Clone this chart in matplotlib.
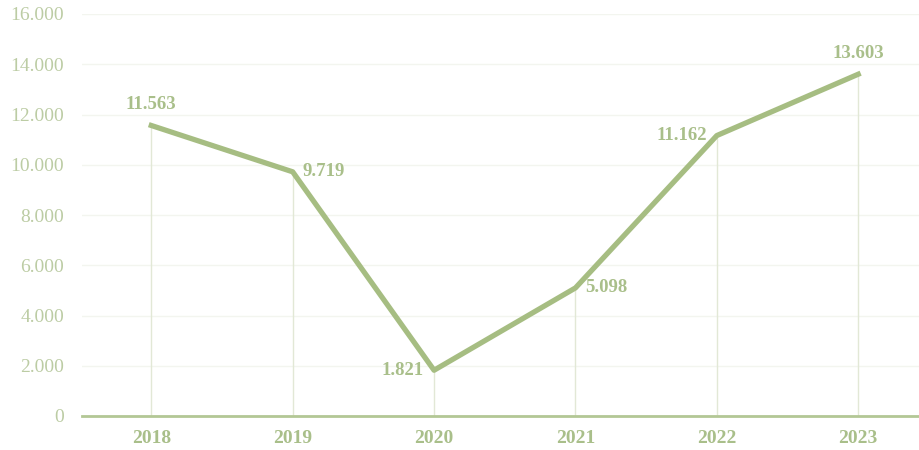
import numpy as np
import matplotlib.pyplot as plt
from matplotlib.ticker import FuncFormatter

years = ['2018', '2019', '2020', '2021', '2022', '2023']
values = [11563, 9719, 1821, 5098, 11162, 13603]
labels = ['11.563', '9.719', '1.821', '5.098', '11.162', '13.603']
y_ticks = [0, 2000, 4000, 6000, 8000, 10000, 12000, 14000, 16000]

line_color = '#a6bd82'
text_color = '#a9bf8a'
tick_color = '#bccca4'

plt.rcParams['font.family'] = ['Liberation Serif', 'DejaVu Serif']

fig = plt.figure(figsize=(9.19, 4.5), dpi=100)
ax = fig.add_axes([82 / 919, 34 / 450, 1 - 82 / 919, 402 / 450])

x = np.arange(len(years))
ax.plot(x, values, color=line_color, lw=3.8, solid_joinstyle='round', zorder=3)

# thin drop lines under each point
ax.vlines(x, 0, values, color='#e2e8d6', lw=1, zorder=1)

# label placement per point: (dx px, dy px, ha, va)
offsets = [(0, 12, 'center', 'bottom'),
           (10, 0, 'left', 'center'),
           (-10, 0, 'right', 'center'),
           (10, 0, 'left', 'center'),
           (-10, 0, 'right', 'center'),
           (0, 12, 'center', 'bottom')]
for xi, v, lab, (dx, dy, ha, va) in zip(x, values, labels, offsets):
    ax.annotate(lab, (xi, v), xytext=(dx, dy), textcoords='offset pixels',
                ha=ha, va=va, fontsize=13.5, fontweight='bold', color=text_color)

ax.set_xlim(-0.49, 5.43)
ax.set_ylim(0, 16000)
ax.set_yticks(y_ticks)
ax.yaxis.set_major_formatter(FuncFormatter(lambda v, p: f'{int(v):,}'.replace(',', '.')))
ax.set_xticks(x)
ax.set_xticklabels(years, fontweight='bold', fontsize=13.5)

ax.grid(axis='y', color='#f3f5ef', lw=1)
ax.set_axisbelow(True)
for s in ['top', 'right', 'left']:
    ax.spines[s].set_visible(False)
ax.spines['bottom'].set_color('#b3c795')
ax.spines['bottom'].set_linewidth(2)

ax.tick_params(axis='both', length=0, colors=tick_color, labelsize=14)
ax.tick_params(axis='x', pad=10, labelcolor=text_color)
ax.tick_params(axis='y', pad=13)

fig.savefig('out.png', dpi=100)
